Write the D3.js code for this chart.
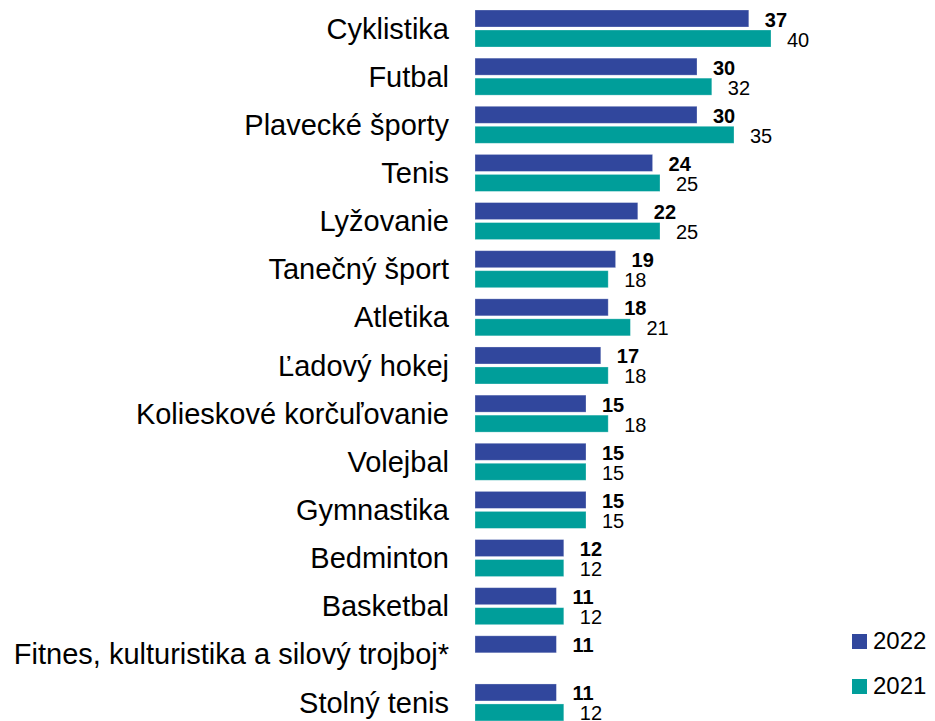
<!DOCTYPE html>
<html>
<head>
<meta charset="utf-8">
<script src="https://cdn.jsdelivr.net/npm/d3@7"></script>
<style>
  html, body { margin: 0; padding: 0; background: #fff; }
  svg { display: block; font-family: "Liberation Sans", Arial, sans-serif; }
</style>
</head>
<body>
<svg id="chart" width="935" height="721"></svg>
<script>
const categories = [
  "Cyklistika", "Futbal", "Plavecké športy", "Tenis", "Lyžovanie",
  "Tanečný šport", "Atletika", "Ľadový hokej", "Kolieskové korčuľovanie",
  "Volejbal", "Gymnastika", "Bedminton", "Basketbal",
  "Fitnes, kulturistika a silový trojboj*", "Stolný tenis"
];
const values2022 = [37, 30, 30, 24, 22, 19, 18, 17, 15, 15, 15, 12, 11, 11, 11];
const values2021 = [40, 32, 35, 25, 25, 18, 21, 18, 18, 15, 15, 12, 12, null, 12];
const seriesNames = ["2022", "2021"];
const seriesColors = ["#31479d", "#009e9a"];

const svg = d3.select("#chart");

const x = d3.scaleLinear().domain([0, 40]).range([475, 771]);
const y = d3.scaleBand().domain(categories).range([10, 720.96]).paddingInner(0.2314).paddingOuter(0);
const ys = d3.scaleBand().domain(seriesNames).range([0, y.bandwidth()]).paddingInner(0.15).paddingOuter(0);

const series = [values2022, values2021];
const rows = [];
categories.forEach((c, i) => {
  seriesNames.forEach((s, j) => {
    if (series[j][i] != null) rows.push({cat: c, ser: s, idx: j, value: series[j][i]});
  });
});

// Category labels
svg.append("g").selectAll("text").data(categories).join("text")
  .attr("x", 449)
  .attr("y", d => y(d) + y.bandwidth() / 2)
  .attr("dy", "0.35em")
  .attr("text-anchor", "end")
  .attr("font-size", 29)
  .attr("fill", "#000")
  .text(d => d);

// Bars
svg.append("g").selectAll("rect").data(rows).join("rect")
  .attr("x", x(0))
  .attr("y", d => y(d.cat) + ys(d.ser))
  .attr("width", d => x(d.value) - x(0))
  .attr("height", ys.bandwidth())
  .attr("fill", d => seriesColors[d.idx])
  .attr("stroke", "#ffffff")
  .attr("stroke-opacity", 0.35)
  .attr("stroke-width", 0.8);

// Value labels
svg.append("g").selectAll("text").data(rows).join("text")
  .attr("x", d => x(d.value) + 16)
  .attr("y", d => y(d.cat) + ys(d.ser) + ys.bandwidth() / 2 + 1)
  .attr("dy", "0.35em")
  .attr("font-size", 20)
  .attr("font-weight", d => d.idx === 0 ? "bold" : "normal")
  .attr("fill", "#000")
  .text(d => d3.format("d")(d.value));

// Legend
const legend = svg.append("g").selectAll("g").data(seriesNames).join("g")
  .attr("transform", (d, i) => `translate(852, ${649 + i * 45})`);
legend.append("rect")
  .attr("x", 0).attr("y", -15)
  .attr("width", 15).attr("height", 15)
  .attr("fill", (d, i) => seriesColors[i]);
legend.append("text")
  .attr("x", 21).attr("y", 0)
  .attr("font-size", 24)
  .attr("fill", "#000")
  .text(d => d);
</script>
</body>
</html>
